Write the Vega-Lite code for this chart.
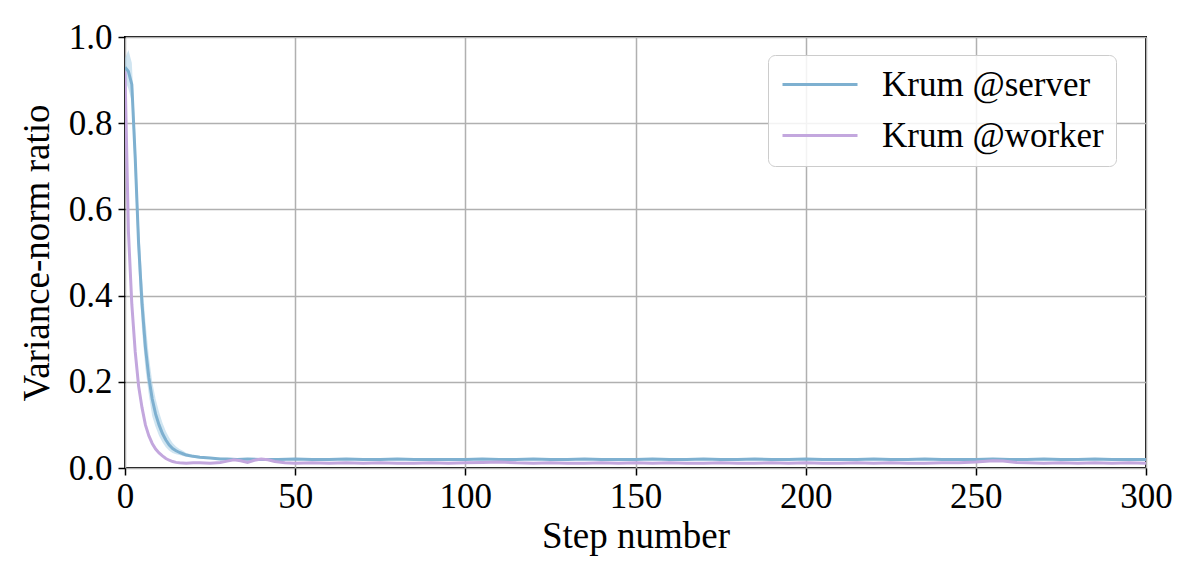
{
  "$schema": "https://vega.github.io/schema/vega-lite/v6.json",
  "width": 1021,
  "height": 431,
  "autosize": {"type": "none"},
  "padding": {"left": 125, "top": 37, "right": 50, "bottom": 115},
  "background": "white",
  "config": {
    "view": {"stroke": "black", "strokeWidth": 2},
    "font": "Liberation Serif",
    "axis": {
      "domain": false,
      "tickColor": "black",
      "tickWidth": 1.5,
      "tickSize": 7,
      "labelFont": "Liberation Serif",
      "labelFontSize": 35,
      "labelColor": "black",
      "titleFont": "Liberation Serif",
      "titleFontSize": 37,
      "titleFontWeight": "normal",
      "titleColor": "black",
      "gridColor": "#b0b0b0",
      "gridWidth": 1.5
    }
  },
  "datasets": {
    "band": [
      {"step": 0, "lo": 0.90, "hi": 0.95},
      {"step": 1, "lo": 0.88, "hi": 0.97},
      {"step": 2, "lo": 0.85, "hi": 0.94},
      {"step": 3, "lo": 0.66, "hi": 0.78},
      {"step": 4, "lo": 0.46, "hi": 0.58},
      {"step": 5, "lo": 0.32, "hi": 0.44},
      {"step": 6, "lo": 0.23, "hi": 0.34},
      {"step": 7, "lo": 0.17, "hi": 0.26},
      {"step": 8, "lo": 0.12, "hi": 0.20},
      {"step": 9, "lo": 0.095, "hi": 0.16},
      {"step": 10, "lo": 0.075, "hi": 0.13},
      {"step": 11, "lo": 0.06, "hi": 0.105},
      {"step": 12, "lo": 0.048, "hi": 0.085},
      {"step": 13, "lo": 0.04, "hi": 0.07},
      {"step": 14, "lo": 0.035, "hi": 0.058},
      {"step": 15, "lo": 0.032, "hi": 0.05},
      {"step": 16, "lo": 0.03, "hi": 0.044},
      {"step": 17, "lo": 0.028, "hi": 0.04},
      {"step": 18, "lo": 0.026, "hi": 0.035},
      {"step": 20, "lo": 0.024, "hi": 0.031},
      {"step": 22, "lo": 0.022, "hi": 0.028},
      {"step": 25, "lo": 0.021, "hi": 0.025},
      {"step": 30, "lo": 0.019, "hi": 0.023},
      {"step": 300, "lo": 0.018, "hi": 0.022}
    ],
    "lines": [
      {"step": 0, "series": "Krum @server", "value": 0.93},
      {"step": 1, "series": "Krum @server", "value": 0.92},
      {"step": 2, "series": "Krum @server", "value": 0.89},
      {"step": 3, "series": "Krum @server", "value": 0.72},
      {"step": 4, "series": "Krum @server", "value": 0.52},
      {"step": 5, "series": "Krum @server", "value": 0.38},
      {"step": 6, "series": "Krum @server", "value": 0.28},
      {"step": 7, "series": "Krum @server", "value": 0.21},
      {"step": 8, "series": "Krum @server", "value": 0.16},
      {"step": 9, "series": "Krum @server", "value": 0.125},
      {"step": 10, "series": "Krum @server", "value": 0.10},
      {"step": 11, "series": "Krum @server", "value": 0.08},
      {"step": 12, "series": "Krum @server", "value": 0.065},
      {"step": 13, "series": "Krum @server", "value": 0.053},
      {"step": 14, "series": "Krum @server", "value": 0.045},
      {"step": 15, "series": "Krum @server", "value": 0.040},
      {"step": 16, "series": "Krum @server", "value": 0.036},
      {"step": 17, "series": "Krum @server", "value": 0.033},
      {"step": 18, "series": "Krum @server", "value": 0.030},
      {"step": 20, "series": "Krum @server", "value": 0.027},
      {"step": 22, "series": "Krum @server", "value": 0.025},
      {"step": 25, "series": "Krum @server", "value": 0.023},
      {"step": 28, "series": "Krum @server", "value": 0.021},
      {"step": 30, "series": "Krum @server", "value": 0.021},
      {"step": 33, "series": "Krum @server", "value": 0.020},
      {"step": 36, "series": "Krum @server", "value": 0.021},
      {"step": 40, "series": "Krum @server", "value": 0.020},
      {"step": 45, "series": "Krum @server", "value": 0.020},
      {"step": 50, "series": "Krum @server", "value": 0.021},
      {"step": 55, "series": "Krum @server", "value": 0.020},
      {"step": 60, "series": "Krum @server", "value": 0.020},
      {"step": 65, "series": "Krum @server", "value": 0.021},
      {"step": 70, "series": "Krum @server", "value": 0.020},
      {"step": 75, "series": "Krum @server", "value": 0.020},
      {"step": 80, "series": "Krum @server", "value": 0.021},
      {"step": 85, "series": "Krum @server", "value": 0.020},
      {"step": 90, "series": "Krum @server", "value": 0.020},
      {"step": 95, "series": "Krum @server", "value": 0.020},
      {"step": 100, "series": "Krum @server", "value": 0.020},
      {"step": 105, "series": "Krum @server", "value": 0.021},
      {"step": 110, "series": "Krum @server", "value": 0.020},
      {"step": 115, "series": "Krum @server", "value": 0.020},
      {"step": 120, "series": "Krum @server", "value": 0.021},
      {"step": 125, "series": "Krum @server", "value": 0.020},
      {"step": 130, "series": "Krum @server", "value": 0.020},
      {"step": 135, "series": "Krum @server", "value": 0.021},
      {"step": 140, "series": "Krum @server", "value": 0.020},
      {"step": 145, "series": "Krum @server", "value": 0.020},
      {"step": 150, "series": "Krum @server", "value": 0.020},
      {"step": 155, "series": "Krum @server", "value": 0.021},
      {"step": 160, "series": "Krum @server", "value": 0.020},
      {"step": 165, "series": "Krum @server", "value": 0.020},
      {"step": 170, "series": "Krum @server", "value": 0.021},
      {"step": 175, "series": "Krum @server", "value": 0.020},
      {"step": 180, "series": "Krum @server", "value": 0.020},
      {"step": 185, "series": "Krum @server", "value": 0.021},
      {"step": 190, "series": "Krum @server", "value": 0.020},
      {"step": 195, "series": "Krum @server", "value": 0.020},
      {"step": 200, "series": "Krum @server", "value": 0.021},
      {"step": 205, "series": "Krum @server", "value": 0.020},
      {"step": 210, "series": "Krum @server", "value": 0.020},
      {"step": 215, "series": "Krum @server", "value": 0.020},
      {"step": 220, "series": "Krum @server", "value": 0.021},
      {"step": 225, "series": "Krum @server", "value": 0.020},
      {"step": 230, "series": "Krum @server", "value": 0.020},
      {"step": 235, "series": "Krum @server", "value": 0.021},
      {"step": 240, "series": "Krum @server", "value": 0.020},
      {"step": 245, "series": "Krum @server", "value": 0.020},
      {"step": 250, "series": "Krum @server", "value": 0.020},
      {"step": 255, "series": "Krum @server", "value": 0.021},
      {"step": 260, "series": "Krum @server", "value": 0.020},
      {"step": 265, "series": "Krum @server", "value": 0.020},
      {"step": 270, "series": "Krum @server", "value": 0.021},
      {"step": 275, "series": "Krum @server", "value": 0.020},
      {"step": 280, "series": "Krum @server", "value": 0.020},
      {"step": 285, "series": "Krum @server", "value": 0.021},
      {"step": 290, "series": "Krum @server", "value": 0.020},
      {"step": 295, "series": "Krum @server", "value": 0.020},
      {"step": 300, "series": "Krum @server", "value": 0.020},
      {"step": 0, "series": "Krum @worker", "value": 0.92},
      {"step": 1, "series": "Krum @worker", "value": 0.55},
      {"step": 2, "series": "Krum @worker", "value": 0.38},
      {"step": 3, "series": "Krum @worker", "value": 0.27},
      {"step": 4, "series": "Krum @worker", "value": 0.19},
      {"step": 5, "series": "Krum @worker", "value": 0.14},
      {"step": 6, "series": "Krum @worker", "value": 0.10},
      {"step": 7, "series": "Krum @worker", "value": 0.075},
      {"step": 8, "series": "Krum @worker", "value": 0.057},
      {"step": 9, "series": "Krum @worker", "value": 0.044},
      {"step": 10, "series": "Krum @worker", "value": 0.035},
      {"step": 11, "series": "Krum @worker", "value": 0.028},
      {"step": 12, "series": "Krum @worker", "value": 0.022},
      {"step": 13, "series": "Krum @worker", "value": 0.018},
      {"step": 14, "series": "Krum @worker", "value": 0.015},
      {"step": 15, "series": "Krum @worker", "value": 0.013},
      {"step": 16, "series": "Krum @worker", "value": 0.012},
      {"step": 18, "series": "Krum @worker", "value": 0.011},
      {"step": 20, "series": "Krum @worker", "value": 0.012},
      {"step": 22, "series": "Krum @worker", "value": 0.012},
      {"step": 25, "series": "Krum @worker", "value": 0.011},
      {"step": 28, "series": "Krum @worker", "value": 0.013},
      {"step": 30, "series": "Krum @worker", "value": 0.016},
      {"step": 32, "series": "Krum @worker", "value": 0.019},
      {"step": 34, "series": "Krum @worker", "value": 0.017},
      {"step": 36, "series": "Krum @worker", "value": 0.013},
      {"step": 38, "series": "Krum @worker", "value": 0.018},
      {"step": 40, "series": "Krum @worker", "value": 0.021},
      {"step": 42, "series": "Krum @worker", "value": 0.019},
      {"step": 44, "series": "Krum @worker", "value": 0.015},
      {"step": 47, "series": "Krum @worker", "value": 0.012},
      {"step": 50, "series": "Krum @worker", "value": 0.011},
      {"step": 55, "series": "Krum @worker", "value": 0.012},
      {"step": 60, "series": "Krum @worker", "value": 0.011},
      {"step": 65, "series": "Krum @worker", "value": 0.012},
      {"step": 70, "series": "Krum @worker", "value": 0.011},
      {"step": 75, "series": "Krum @worker", "value": 0.012},
      {"step": 80, "series": "Krum @worker", "value": 0.011},
      {"step": 85, "series": "Krum @worker", "value": 0.011},
      {"step": 90, "series": "Krum @worker", "value": 0.012},
      {"step": 95, "series": "Krum @worker", "value": 0.011},
      {"step": 100, "series": "Krum @worker", "value": 0.012},
      {"step": 105, "series": "Krum @worker", "value": 0.013},
      {"step": 110, "series": "Krum @worker", "value": 0.014},
      {"step": 115, "series": "Krum @worker", "value": 0.012},
      {"step": 120, "series": "Krum @worker", "value": 0.011},
      {"step": 125, "series": "Krum @worker", "value": 0.012},
      {"step": 130, "series": "Krum @worker", "value": 0.011},
      {"step": 135, "series": "Krum @worker", "value": 0.011},
      {"step": 140, "series": "Krum @worker", "value": 0.012},
      {"step": 145, "series": "Krum @worker", "value": 0.011},
      {"step": 150, "series": "Krum @worker", "value": 0.012},
      {"step": 155, "series": "Krum @worker", "value": 0.011},
      {"step": 160, "series": "Krum @worker", "value": 0.012},
      {"step": 165, "series": "Krum @worker", "value": 0.011},
      {"step": 170, "series": "Krum @worker", "value": 0.011},
      {"step": 175, "series": "Krum @worker", "value": 0.012},
      {"step": 180, "series": "Krum @worker", "value": 0.011},
      {"step": 185, "series": "Krum @worker", "value": 0.011},
      {"step": 190, "series": "Krum @worker", "value": 0.012},
      {"step": 195, "series": "Krum @worker", "value": 0.011},
      {"step": 200, "series": "Krum @worker", "value": 0.012},
      {"step": 205, "series": "Krum @worker", "value": 0.011},
      {"step": 210, "series": "Krum @worker", "value": 0.011},
      {"step": 215, "series": "Krum @worker", "value": 0.012},
      {"step": 220, "series": "Krum @worker", "value": 0.011},
      {"step": 225, "series": "Krum @worker", "value": 0.012},
      {"step": 230, "series": "Krum @worker", "value": 0.011},
      {"step": 235, "series": "Krum @worker", "value": 0.011},
      {"step": 240, "series": "Krum @worker", "value": 0.012},
      {"step": 245, "series": "Krum @worker", "value": 0.012},
      {"step": 250, "series": "Krum @worker", "value": 0.014},
      {"step": 255, "series": "Krum @worker", "value": 0.017},
      {"step": 258, "series": "Krum @worker", "value": 0.016},
      {"step": 262, "series": "Krum @worker", "value": 0.013},
      {"step": 265, "series": "Krum @worker", "value": 0.012},
      {"step": 270, "series": "Krum @worker", "value": 0.011},
      {"step": 275, "series": "Krum @worker", "value": 0.012},
      {"step": 280, "series": "Krum @worker", "value": 0.011},
      {"step": 285, "series": "Krum @worker", "value": 0.012},
      {"step": 290, "series": "Krum @worker", "value": 0.011},
      {"step": 295, "series": "Krum @worker", "value": 0.012},
      {"step": 300, "series": "Krum @worker", "value": 0.011}
    ]
  },
  "layer": [
    {
      "data": {"name": "band"},
      "mark": {"type": "area", "color": "#a9cfe6", "opacity": 0.55},
      "encoding": {
        "x": {"field": "step", "type": "quantitative", "scale": {"domain": [0, 300], "nice": false}},
        "y": {"field": "lo", "type": "quantitative"},
        "y2": {"field": "hi"}
      }
    },
    {
      "data": {"name": "lines"},
      "mark": {"type": "line", "strokeWidth": 3, "clip": true},
      "encoding": {
        "x": {
          "field": "step",
          "type": "quantitative",
          "scale": {"domain": [0, 300], "nice": false},
          "axis": {"values": [0, 50, 100, 150, 200, 250, 300], "title": "Step number", "titlePadding": 4, "labelPadding": 4, "labelFlush": false}
        },
        "y": {
          "field": "value",
          "type": "quantitative",
          "scale": {"domain": [0, 1], "nice": false},
          "axis": {"values": [0, 0.2, 0.4, 0.6, 0.8, 1.0], "format": ".1f", "title": "Variance-norm ratio", "titlePadding": 12, "labelPadding": 6}
        },
        "color": {
          "field": "series",
          "type": "nominal",
          "scale": {"domain": ["Krum @server", "Krum @worker"], "range": ["#7eb0d0", "#c3a7de"]},
          "legend": {
            "title": null,
            "orient": "none",
            "legendX": 643,
            "legendY": 18,
            "symbolType": "M-1,0H4",
            "symbolSize": 900,
            "symbolStrokeWidth": 3,
            "labelFont": "Liberation Serif",
            "labelFontSize": 35,
            "labelLimit": 0,
            "labelColor": "black",
            "labelOffset": 67,
            "rowPadding": 15,
            "padding": 12,
            "fillColor": "rgba(255,255,255,0.85)",
            "strokeColor": "#cccccc",
            "cornerRadius": 7
          }
        }
      }
    }
  ]
}
